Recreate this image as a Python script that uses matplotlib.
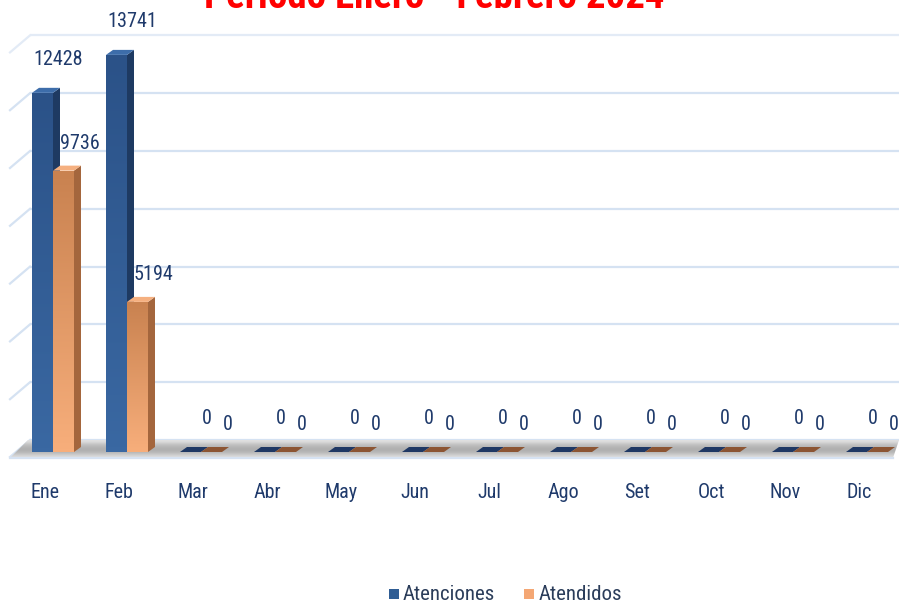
import numpy as np
import matplotlib
matplotlib.use("Agg")
import matplotlib.pyplot as plt
from matplotlib import font_manager as fm
from matplotlib.patches import Polygon, Rectangle
from matplotlib.colors import LinearSegmentedColormap

months = ["Ene", "Feb", "Mar", "Abr", "May", "Jun", "Jul", "Ago", "Set", "Oct", "Nov", "Dic"]
atenciones = [12428, 13741, 0, 0, 0, 0, 0, 0, 0, 0, 0, 0]
atendidos = [9736, 5194, 0, 0, 0, 0, 0, 0, 0, 0, 0, 0]
grid_values = [0, 2000, 4000, 6000, 8000, 10000, 12000, 14000]
title = "Período Enero - Febrero 2024"
series_names = ["Atenciones", "Atendidos"]

installed = {f.name for f in fm.fontManager.ttflist}
cands = ["Liberation Sans Narrow", "Roboto Condensed", "Open Sans Condensed",
         "DejaVu Sans Condensed", "Roboto", "Liberation Sans"]
main = next((c for c in cands if c in installed), "DejaVu Sans")
FONT = [main, "DejaVu Sans"]
narrow = main in ("Liberation Sans Narrow", "Roboto Condensed", "Open Sans Condensed")
fs = 14.5 if narrow else 11.5
leg_fs = 15 if narrow else 12
title_fs = 28 if narrow else 22

W, H = 899, 607
fig = plt.figure(figsize=(W / 100, H / 100), dpi=100)
ax = fig.add_axes([0, 0, 1, 1])
ax.set_axis_off()

x0_px, step_px = 53.0, 74.0
base_px = 452.0
k = 57.8 / 2000.0
ax.set_xlim((0 - x0_px) / step_px, (W - x0_px) / step_px)
ax.set_ylim((base_px - H) / k, base_px / k)

def dx(px):
    return px / step_px

def dy(px):
    return px / k

txt_col = "#1F3A6B"

# back wall gridlines
for v in grid_values:
    yb = v + dy(12)
    xl = dx(30 - x0_px)
    c = "#E3EBF6" if v == grid_values[-1] else "#D5E2F2"
    ax.plot([xl, dx(W - x0_px)], [yb, yb], color=c, lw=1.6, zorder=0, solid_capstyle="butt")
    ax.plot([dx(10 - x0_px), xl], [yb - dy(17), yb], color=c, lw=1.6, zorder=0)

# floor
fl = [(dx(28 - x0_px), dy(12)), (dx(W - x0_px), dy(12)),
      (dx(W - 6 - x0_px), dy(-6)), (dx(10 - x0_px), dy(-6))]
floor = Polygon(fl, closed=True, facecolor="none", edgecolor="none")
ax.add_patch(floor)
grad = np.array([[0.88], [0.78], [0.72], [0.68], [0.70], [0.78], [0.87]])
im = ax.imshow(grad, cmap="gray", vmin=0, vmax=1, aspect="auto",
               extent=[dx(10 - x0_px), dx(W - x0_px), dy(-6), dy(12)], zorder=1,
               interpolation="bicubic")
im.set_clip_path(floor)
ax.plot([dx(10 - x0_px), dx(W - 6 - x0_px)], [dy(-6), dy(-6)], color="#D6E2F2", lw=1.6, zorder=1)

x = np.arange(len(months))
bw = dx(21)
ddx, ddy = dx(7), dy(5)

blue_cmap = LinearSegmentedColormap.from_list("b", ["#3A68A2", "#2B5288"])
orng_cmap = LinearSegmentedColormap.from_list("o", ["#F7AE7B", "#C98250"])
specs = [(atenciones, -bw, blue_cmap, "#1E3A62", "#3D6DAA", "#1F3864", 33),
         (atendidos, 0.0, orng_cmap, "#A4663D", "#F5B080", "#8C5533", 27)]

for vals, off, cmap, side_c, top_c, flat_c, lab_off in specs:
    bars = ax.bar(x + off, vals, width=bw, align="edge", color="none", edgecolor="none", zorder=3)
    for b in bars:
        l, h = b.get_x(), b.get_height()
        r = l + bw
        if h > 0:
            g = np.linspace(0, 1, 64).reshape(-1, 1)
            img = ax.imshow(g, cmap=cmap, aspect="auto", extent=[l, r, h, 0],
                            zorder=3, interpolation="bilinear")
            img.set_clip_path(b)
            ax.add_patch(Polygon([(r, 0), (r + ddx, ddy), (r + ddx, h + ddy), (r, h)],
                                 closed=True, facecolor=side_c, edgecolor="none", zorder=3))
            ax.add_patch(Polygon([(l, h), (r, h), (r + ddx, h + ddy), (l + ddx, h + ddy)],
                                 closed=True, facecolor=top_c, edgecolor="none", zorder=3))
        else:
            ax.add_patch(Polygon([(l, h), (r, h), (r + ddx, h + ddy), (l + ddx, h + ddy)],
                                 closed=True, facecolor=flat_c, edgecolor="none", zorder=3))
        ax.text(l + bw / 2 + dx(16), h + dy(lab_off), f"{int(h)}", ha="center", va="center",
                fontsize=fs, color=txt_col, family=FONT, zorder=5)

for i, m in enumerate(months):
    ax.text(i - dx(8), dy(base_px - 492), m, ha="center", va="center",
            fontsize=fs, color=txt_col, family=FONT)

fig.text(434 / W, 1 - 8 / H, title, ha="center", va="baseline", fontsize=title_fs,
         fontweight="bold", color="#FF0000", family=FONT)

# legend
ly = 1 - 594 / H
fig.patches.append(Rectangle((389 / W, ly - 5 / H), 10 / W, 10 / H, transform=fig.transFigure,
                             facecolor="#2F5D94", edgecolor="none"))
fig.text(403 / W, ly, series_names[0], ha="left", va="center", fontsize=leg_fs, color="#2B3D5A", family=FONT)
fig.patches.append(Rectangle((524 / W, ly - 5 / H), 10 / W, 10 / H, transform=fig.transFigure,
                             facecolor="#F4A774", edgecolor="none"))
fig.text(539 / W, ly, series_names[1], ha="left", va="center", fontsize=leg_fs, color="#2B3D5A", family=FONT)

fig.savefig("out.png", dpi=100)
